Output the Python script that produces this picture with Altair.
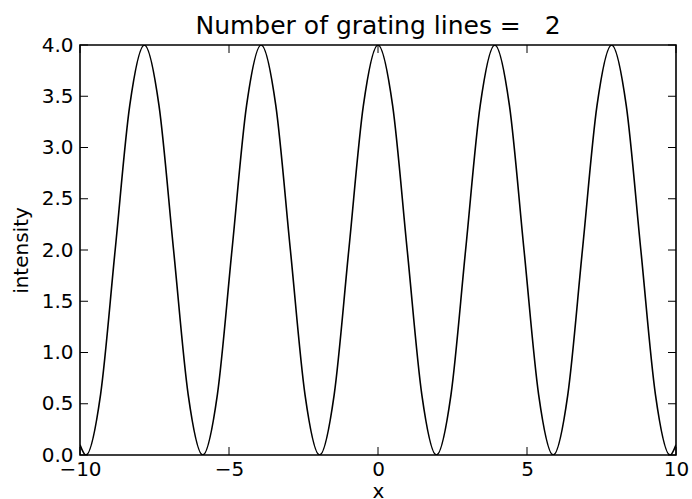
import altair as alt
import pandas as pd

# Intensity curve for a two-line grating, sampled at peaks, zeros and in between
x_vals = [-10.00, -9.80, -9.31, -8.82, -8.33, -7.84, -7.35, -6.86, -6.37, -5.88,
          -5.39, -4.90, -4.41, -3.92, -3.43, -2.94, -2.45, -1.96, -1.47, -0.98,
          -0.49, 0.00, 0.49, 0.98, 1.47, 1.96, 2.45, 2.94, 3.43, 3.92,
          4.41, 4.90, 5.39, 5.88, 6.37, 6.86, 7.35, 7.84, 8.33, 8.82,
          9.31, 9.80, 10.00]
intensity = [0.10, 0.00, 0.59, 2.00, 3.41, 4.00, 3.41, 2.00, 0.59, 0.00,
             0.59, 2.00, 3.41, 4.00, 3.41, 2.00, 0.59, 0.00, 0.59, 2.00,
             3.41, 4.00, 3.41, 2.00, 0.59, 0.00, 0.59, 2.00, 3.41, 4.00,
             3.41, 2.00, 0.59, 0.00, 0.59, 2.00, 3.41, 4.00, 3.41, 2.00,
             0.59, 0.00, 0.10]

x_ticks = [-10, -5, 0, 5, 10]
y_ticks = [0.0, 0.5, 1.0, 1.5, 2.0, 2.5, 3.0, 3.5, 4.0]

N_LINES = 2
W, H = 596, 410
FONT = "DejaVu Sans"
TICK_LEN = 8

curve_df = pd.DataFrame({"x": x_vals, "intensity": intensity})
xt_df = pd.DataFrame({"t": x_ticks})
yt_df = pd.DataFrame({"t": y_ticks})

x_scale = alt.Scale(domain=[-10, 10], nice=False, zero=False)
y_scale = alt.Scale(domain=[0, 4], nice=False, zero=False)

x_axis = alt.Axis(values=x_ticks, format="d", title="x", grid=False, domain=False,
                  ticks=False, tickSize=0, labelPadding=4, labelFontSize=20,
                  labelFont=FONT, labelColor="black", titleFont=FONT,
                  titleFontSize=20, titleFontWeight="normal", titleColor="black",
                  titlePadding=2, labelFlush=False)
y_axis = alt.Axis(values=y_ticks, format=".1f", title="intensity", grid=False,
                  domain=False, ticks=False, tickSize=0, labelPadding=7,
                  labelFontSize=20, labelFont=FONT, labelColor="black",
                  titleFont=FONT, titleFontSize=20, titleFontWeight="normal",
                  titleColor="black", titlePadding=10, labelFlush=False)

curve = alt.Chart(curve_df).mark_line(
    color="black", strokeWidth=1.6, interpolate="monotone", clip=True
).encode(
    x=alt.X("x:Q", scale=x_scale, axis=x_axis),
    y=alt.Y("intensity:Q", scale=y_scale, axis=y_axis),
)

# Inward tick marks on all four sides of the frame
bottom_ticks = alt.Chart(xt_df).mark_rule(color="black", strokeWidth=1).encode(
    x=alt.X("t:Q", scale=x_scale), y=alt.value(H), y2=alt.value(H - TICK_LEN))
top_ticks = alt.Chart(xt_df).mark_rule(color="black", strokeWidth=1).encode(
    x=alt.X("t:Q", scale=x_scale), y=alt.value(0), y2=alt.value(TICK_LEN))
left_ticks = alt.Chart(yt_df).mark_rule(color="black", strokeWidth=1).encode(
    y=alt.Y("t:Q", scale=y_scale), x=alt.value(0), x2=alt.value(TICK_LEN))
right_ticks = alt.Chart(yt_df).mark_rule(color="black", strokeWidth=1).encode(
    y=alt.Y("t:Q", scale=y_scale), x=alt.value(W), x2=alt.value(W - TICK_LEN))

title_text = "Number of grating lines =\u00a0\u00a0\u00a0" + str(N_LINES)

chart = alt.layer(
    bottom_ticks, top_ticks, left_ticks, right_ticks, curve
).properties(
    width=W,
    height=H,
    title=alt.TitleParams(title_text, font=FONT, fontSize=25, fontWeight="normal",
                          color="black", anchor="middle", offset=8, dy=12),
    autosize=alt.AutoSizeParams(type="none"),
    padding={"left": 80, "top": 45, "right": 16, "bottom": 44},
).configure(
    background="white"
).configure_view(
    stroke="black", strokeWidth=1.6
)

chart.save("out.html", embed_options={"renderer": "svg", "actions": False})
